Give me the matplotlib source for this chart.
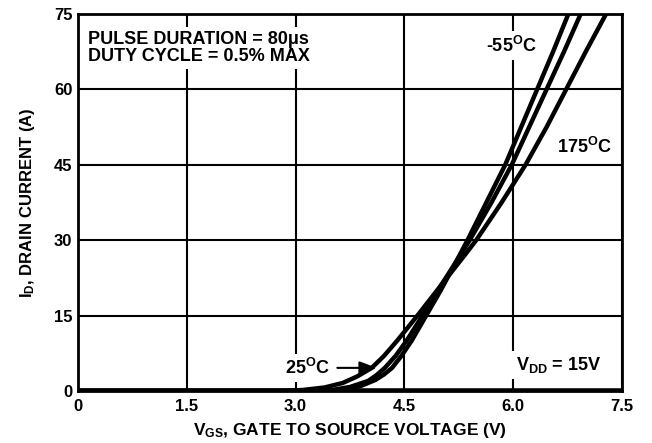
import numpy as np
import matplotlib.pyplot as plt

plt.rcParams['font.family'] = ['Liberation Sans', 'DejaVu Sans']
plt.rcParams['font.weight'] = 'bold'
plt.rcParams['mathtext.fontset'] = 'custom'
plt.rcParams['mathtext.rm'] = 'Liberation Sans:bold'
plt.rcParams['mathtext.it'] = 'Liberation Sans:bold'
plt.rcParams['mathtext.bf'] = 'Liberation Sans:bold'

# transfer characteristics
vgs_m55 = [0, 3.4, 3.7, 3.9, 4.1, 4.22, 4.33, 4.46, 4.60, 4.80, 5.00, 5.26, 5.37, 5.63, 5.89, 6.11, 6.33, 6.55, 6.76]
id_m55 = [0, 0, 0.3, 1.0, 2.2, 3.3, 4.6, 7.0, 10, 15, 20, 27, 30, 37.5, 45, 52.5, 60, 67.5, 75]

vgs_25 = [0, 3.2, 3.5, 3.75, 4.0, 4.12, 4.23, 4.38, 4.53, 4.75, 4.96, 5.27, 5.40, 5.70, 5.98, 6.22, 6.46, 6.70, 6.93]
id_25 = [0, 0, 0.2, 0.8, 2.0, 3.2, 4.6, 7.0, 10, 15, 20, 27, 30, 37.5, 45, 52.5, 60, 67.5, 75]

vgs_175 = [0, 2.8, 3.1, 3.4, 3.65, 3.85, 4.05, 4.22, 4.40, 4.68, 4.95, 5.33, 5.49, 5.84, 6.17, 6.46, 6.73, 7.00, 7.28]
id_175 = [0, 0, 0.2, 0.7, 1.6, 2.9, 4.6, 7.0, 10, 15, 20, 27, 30, 37.5, 45, 52.5, 60, 67.5, 75]

xticks = [0, 1.5, 3.0, 4.5, 6.0, 7.5]
xticklabels = ['0', '1.5', '3.0', '4.5', '6.0', '7.5']
yticks = [0, 15, 30, 45, 60, 75]

fig = plt.figure(figsize=(6.52, 4.43), dpi=100)
ax = fig.add_axes([0.1196, 0.1174, 0.8344, 0.8510])

for v, i in [(vgs_m55, id_m55), (vgs_25, id_25), (vgs_175, id_175)]:
    ax.plot(v, i, color='black', lw=3.2, solid_capstyle='butt', solid_joinstyle='round', zorder=3)
ax.axhline(0, color='black', lw=4, zorder=3)

ax.set_xlim(0, 7.5)
ax.set_ylim(0, 75)
ax.set_xticks(xticks)
ax.set_xticklabels(xticklabels)
ax.set_yticks(yticks)
ax.tick_params(length=0, labelsize=12, pad=4)
ax.tick_params(axis='x', pad=6)
for lab in ax.get_xticklabels() + ax.get_yticklabels():
    lab.set_fontweight('bold')
ax.grid(True, color='black', lw=1.5, zorder=1)
for s in ax.spines.values():
    s.set_linewidth(2)
    s.set_zorder(4)

ax.set_xlabel(r'V$_{\rm GS}$, GATE TO SOURCE VOLTAGE (V)', fontsize=12.5, fontweight='bold', labelpad=5)
ax.set_ylabel(r'I$_{\rm D}$, DRAIN CURRENT (A)', fontsize=12, fontweight='bold', labelpad=12)

box = dict(facecolor='white', edgecolor='none', pad=3)
ax.text(0.14, 68.3, 'PULSE DURATION = 80\u03bcs\nDUTY CYCLE = 0.5% MAX', fontsize=13,
        fontweight='bold', va='center', ha='left', linespacing=1.0, bbox=box, zorder=5)
ax.text(5.98, 68.7, r'-55$^{\rm O}$C', fontsize=13, ha='center', va='center', bbox=box, zorder=5)
ax.text(6.98, 48.5, r'175$^{\rm O}$C', fontsize=13, ha='center', va='center', bbox=box, zorder=5)
ax.text(6.62, 5.2, r'V$_{\rm DD}$ = 15V', fontsize=13, ha='center', va='center', bbox=box, zorder=5)
ax.annotate(r'25$^{\rm O}$C', xy=(4.12, 4.6), xytext=(3.17, 4.6), fontsize=13, ha='center', va='center',
            bbox=box, zorder=5,
            arrowprops=dict(arrowstyle='-|>,head_length=0.8,head_width=0.3', color='black', lw=1.5,
                            shrinkA=2, shrinkB=0))

fig.savefig('out.png', dpi=100)
